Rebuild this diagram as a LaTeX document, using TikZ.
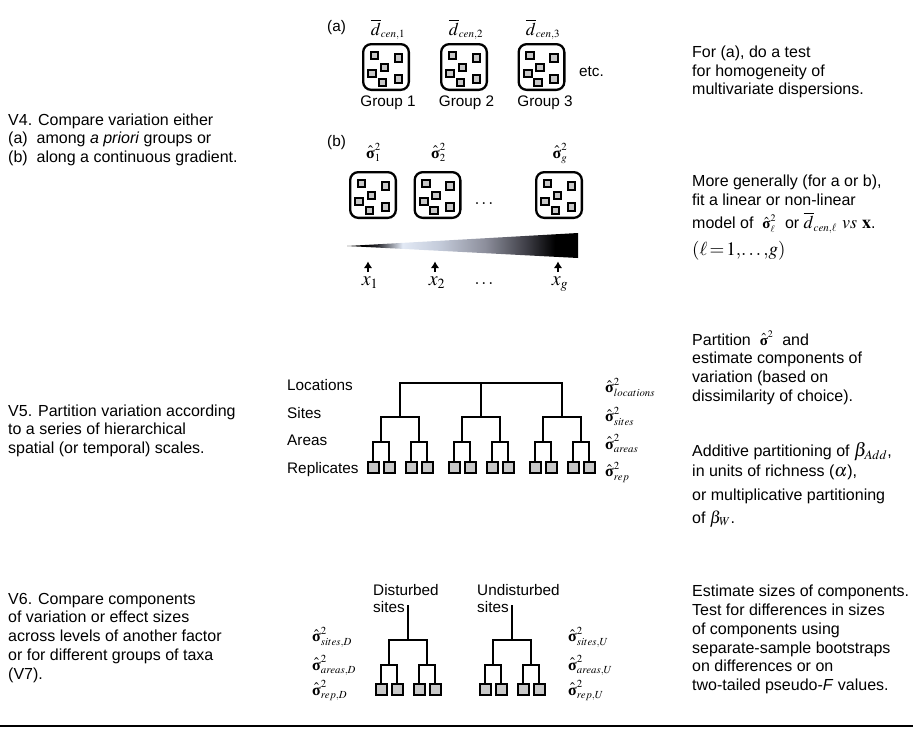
\documentclass[tikz,border=0pt]{standalone}
\usepackage{amsmath}
\usepackage{mathptmx}
\usepackage[no-math]{fontspec}
\setmainfont{Liberation Sans}
\newfontfamily\tmsf{Liberation Serif}
\usetikzlibrary{arrows.meta}
\DeclareMathSizes{15}{15}{10}{7}
\DeclareMathSizes{16}{16}{10.8}{7.5}
\DeclareMathSizes{17}{17}{12}{8}
\DeclareMathSizes{18}{18}{11}{8}
\DeclareMathSizes{19}{19}{13}{9}
\DeclareMathSizes{20}{20}{14}{10}
\definecolor{boxgray}{RGB}{200,200,200}
\definecolor{wdark}{RGB}{40,40,46}
\definecolor{wlight}{RGB}{226,233,245}
\definecolor{wlight2}{RGB}{196,203,218}
\definecolor{wmid}{RGB}{140,142,155}
\definecolor{wmid2}{RGB}{60,60,68}
\pgfdeclarehorizontalshading{wedgeshade}{100bp}{color(0bp)=(black); color(25bp)=(black); color(29bp)=(black); color(31.5bp)=(wdark); color(37bp)=(wlight); color(45bp)=(wlight2); color(55bp)=(wmid); color(64bp)=(wmid2); color(70bp)=(black); color(100bp)=(black)}
\newcommand\rows[1]{\vtop{\halign{##\hfil\cr#1\crcr}}}
\newcommand\sg{\hat{\text{\tmsf\bfseries σ}}}
\newcommand\mygrp[3]{%
  \begin{scope}[shift={(#2,#3)}]
    \node[gbox] (#1) at (24,24) {};
    \node[sq] (#1a) at (12.5,12.5) {};
    \node[sq] (#1b) at (36.5,15) {};
    \node[sq] (#1c) at (22.5,24.5) {};
    \node[sq] (#1d) at (10.2,30.5) {};
    \node[sq] (#1e) at (20.5,39.5) {};
    \node[sq] (#1f) at (36.5,36) {};
  \end{scope}}
\tikzset{
  txt/.style={anchor=base west, inner sep=0pt, font=\fontsize{16}{18.8}\selectfont},
  lbl/.style={inner sep=0pt, font=\fontsize{15.3}{18}\selectfont},
  mth/.style={inner sep=0pt, font=\fontsize{18}{20}\selectfont},
  sgl/.style={inner sep=0pt, anchor=base west, font=\fontsize{16}{18}\selectfont},
  xl/.style={inner sep=0pt, anchor=base, font=\fontsize{20}{22}\selectfont},
  gbox/.style={draw, line width=2.3pt, rounded corners=8pt, minimum size=45.7pt, inner sep=0pt},
  sq/.style={draw, line width=1.9pt, fill=boxgray, minimum size=7.8pt, inner sep=0pt},
  rep/.style={draw, line width=2pt, fill=boxgray, minimum size=11pt, inner sep=0pt},
  tree/.style={line width=2pt},
  up/.style={-{Latex[length=6.5pt,width=8.5pt]}, line width=2.2pt},
}
\begin{document}
\begin{tikzpicture}[x=1pt,y=-1pt]
\useasboundingbox (0,0) rectangle (919,737);

% ---------- left column ----------
\node[txt] (v4) at (8,125) {\rows{V4. Compare variation either\cr (a)\ \ among \textit{a priori} groups or\cr (b)\ \ along a continuous gradient.}};
\node[txt] (v5) at (8,416) {\rows{V5. Partition variation according\cr to a series of hierarchical\cr spatial (or temporal) scales.}};
\node[txt] (v6) at (8,604) {\rows{V6. Compare components\cr of variation or effect sizes\cr across levels of another factor\cr or for different groups of taxa\cr (V7).}};

% ---------- right column ----------
\node[txt] (ra) at (692,57.3) {\rows{For (a), do a test\cr for homogeneity of\cr multivariate dispersions.}};
\node[txt] (rb) at (692,186.7) {\rows{More generally (for a or b),\cr fit a linear or non-linear}};
\node[txt] (rb3) at (692,228.3) {model of\ \ {\fontsize{15}{18}\selectfont$\sg^2_{\ell}$}\ \ or {\fontsize{18}{20}\selectfont$\overline{d}_{cen,\ell}$ $\mathit{vs}$ $\mathbf{x}$}.};
\node[txt] (rb4) at (692,255) {\fontsize{19}{20}\selectfont$(\ell\,{=}\,1,\!\ldots,\!g)$};
\node[txt] (rc1) at (692,345) {Partition\ \ {\fontsize{15}{18}\selectfont$\sg^2$}\ \ and};
\node[txt] (rc) at (692,363.5) {\rows{estimate components of\cr variation (based on\cr dissimilarity of choice).}};
\node[txt] (rd1) at (692,456.7) {Additive partitioning of {\fontsize{19}{20}\selectfont$\beta_{Add}$},};
\node[txt] (rd2) at (692,476.7) {in units of richness ({\fontsize{18}{20}\selectfont$\alpha$}),};
\node[txt] (rd3) at (692,500) {or multiplicative partitioning};
\node[txt] (rd4) at (692,523) {of {\fontsize{17}{20}\selectfont$\beta_{W}$}.};
\node[txt] (re) at (692,596.7) {\rows{Estimate sizes of components.\cr Test for differences in sizes\cr of components using\cr separate-sample bootstraps\cr on differences or on\cr two-tailed pseudo-\textit{F} values.}};

% ---------- (a) groups ----------
\node[lbl, anchor=base west] (pa) at (327,31.7) {(a)};
\mygrp{g1}{362}{43}
\mygrp{g2}{440}{43}
\mygrp{g3}{517.5}{43}
\node[mth, anchor=base] (d1) at (388,35) {$\overline{d}_{cen,1}$};
\node[mth, anchor=base] (d2) at (466,35) {$\overline{d}_{cen,2}$};
\node[mth, anchor=base] (d3) at (543,35) {$\overline{d}_{cen,3}$};
\node[lbl, anchor=base] (gl1) at (388,106) {Group 1};
\node[lbl, anchor=base] (gl2) at (466.5,106) {Group 2};
\node[lbl, anchor=base] (gl3) at (545,106) {Group 3};
\node[lbl, anchor=base west] (etc) at (579,76) {etc.};

% ---------- (b) gradient ----------
\node[lbl, anchor=base west] (pb) at (327,146.7) {(b)};
\mygrp{h1}{349}{171}
\mygrp{h2}{413.5}{171}
\mygrp{h3}{535}{171}
\node[sgl, anchor=base] (s1l) at (373.5,158) {$\sg^2_1$};
\node[sgl, anchor=base] (s2l) at (438.5,158) {$\sg^2_2$};
\node[sgl, anchor=base] (sgl) at (560,158) {$\sg^2_g$};
\node[mth, anchor=base] (bdots) at (485,204) {$\dots$};
\shade[shading=wedgeshade] (347,246) -- (578,233) -- (578,258) -- cycle;
\node[xl] (x1) at (370,285) {$x_1$};
\node[xl] (x2) at (437,285) {$x_2$};
\node[xl] (xg) at (560,285) {$x_g$};
\node[mth, anchor=base] (xdots) at (485,284) {$\dots$};
\coordinate (x1b) at (368,272); \coordinate (x1t) at (368,261.5);
\coordinate (x2b) at (435,272); \coordinate (x2t) at (435,261.5);
\coordinate (xgb) at (558,272); \coordinate (xgt) at (558,261.5);
\draw[up] (x1b) -- (x1t);
\draw[up] (x2b) -- (x2t);
\draw[up] (xgb) -- (xgt);

% ---------- hierarchical tree ----------
\node[lbl, anchor=base west] (lloc) at (287,390.7) {Locations};
\node[lbl, anchor=base west] (lsit) at (287,418.3) {Sites};
\node[lbl, anchor=base west] (lare) at (287,445.7) {Areas};
\node[lbl, anchor=base west] (lrep) at (287,473.3) {Replicates};
\coordinate (L) at (481,383);
\foreach \i/\sx in {1/400,2/481,3/562} {
  \coordinate (s\i) at (\sx,417);
  \foreach \j/\dx in {1/-19,2/19} {
    \coordinate (a\i\j) at ({\sx+(\dx)},442);
    \foreach \k/\ex in {1/-8,2/8} {
      \node[rep] (r\i\j\k) at ({\sx+(\dx)+(\ex)},467.5) {};
    }
    \draw[tree] (r\i\j1.north) |- (a\i\j) -| (r\i\j2.north);
  }
  \draw[tree] (a\i1) |- (s\i) -| (a\i2);
}
\draw[tree] (s1) |- (L) -| (s3);
\draw[tree] (L) -- (s2);
\node[sgl] (sloc) at (605,392.7) {$\sg^2_{locations}$};
\node[sgl] (ssit) at (605,421.7) {$\sg^2_{sites}$};
\node[sgl] (sare) at (605,449) {$\sg^2_{areas}$};
\node[sgl] (srep) at (605,476.7) {$\sg^2_{rep}$};

% ---------- disturbed / undisturbed ----------
\node[lbl, anchor=base west] (dis) at (373,595) {Disturbed};
\node[lbl, anchor=base west] (dsi) at (373,612.7) {sites};
\node[lbl, anchor=base west] (und) at (477,595) {Undisturbed};
\node[lbl, anchor=base west] (usi) at (477,612.7) {sites};
\foreach \n/\sx in {D/408,U/512} {
  \coordinate (t\n) at (\sx,605);
  \coordinate (s\n) at (\sx,640);
  \draw[tree] (t\n) -- (s\n);
  \foreach \j/\dx in {1/-19,2/19} {
    \coordinate (a\n\j) at ({\sx+(\dx)},665);
    \foreach \k/\ex in {1/-8,2/8} {
      \node[rep] (r\n\j\k) at ({\sx+(\dx)+(\ex)},689.5) {};
    }
    \draw[tree] (r\n\j1.north) |- (a\n\j) -| (r\n\j2.north);
  }
  \draw[tree] (a\n1) |- (s\n) -| (a\n2);
}
\node[sgl] (sdsi) at (312,641.7) {$\sg^2_{sites,D}$};
\node[sgl] (sdar) at (312,670) {$\sg^2_{areas,D}$};
\node[sgl] (sdre) at (312,695) {$\sg^2_{rep,D}$};
\node[sgl] (susi) at (568,641.7) {$\sg^2_{sites,U}$};
\node[sgl] (suar) at (568,670) {$\sg^2_{areas,U}$};
\node[sgl] (sure) at (568,695) {$\sg^2_{rep,U}$};

% ---------- bottom rule ----------
\coordinate (rl) at (0,726);
\coordinate (rr) at (913,726);
\draw[line width=2pt] (rl) -- (rr);
\end{tikzpicture}
\end{document}
